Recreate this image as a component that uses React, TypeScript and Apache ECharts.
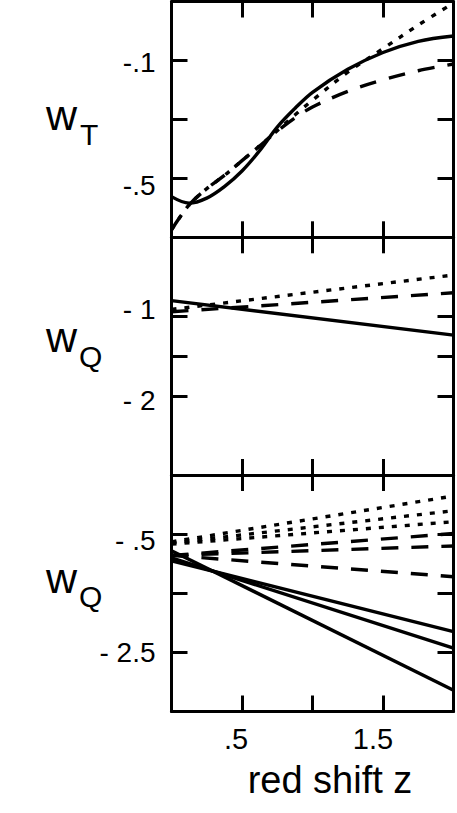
import React, { useEffect, useRef } from "react";
import * as echarts from "echarts";

const FONT = '"Liberation Sans", Arial, Helvetica, sans-serif';

// ---- x axis (red shift z), shared by all panels ----
const X_TICKS = [0.5, 1, 1.5];
const X_LABEL_VALUES = [0.5, 1.5];
const X_LABELS = [".5", "1.5"];

// ---- panel 1: w_T ----
const Z_T = [0, 0.125, 0.25, 0.375, 0.5, 0.625, 0.75, 0.875, 1, 1.25, 1.5, 1.75, 2];
const WT_SOLID = [-0.562, -0.584, -0.567, -0.528, -0.475, -0.406, -0.326, -0.263, -0.208, -0.13, -0.073, -0.035, -0.017];
const WT_DOTTED = [-0.675, -0.59, -0.535, -0.49, -0.44, -0.39, -0.338, -0.285, -0.235, -0.14, -0.06, 0.02, 0.095];
const WT_DASHED = [-0.675, -0.59, -0.535, -0.49, -0.44, -0.39, -0.34, -0.295, -0.258, -0.205, -0.166, -0.135, -0.112];
const WT_TICKS = [-0.5, -0.3, -0.1];
const WT_LABEL_VALUES = [-0.1, -0.5];
const WT_LABELS = ["-.1", "-.5"];

// ---- panel 2: w_Q (single model) ----
const Z_Q = [0, 2];
const WQ1_SOLID = [-0.8, -1.234];
const WQ1_DOTTED = [-0.91, -0.476];
const WQ1_DASHED = [-0.94, -0.7];
const WQ1_TICKS = [-1, -1.5, -2];
const WQ1_LABEL_VALUES = [-1, -2];
const WQ1_LABELS = ["- 1", "- 2"];

// ---- panel 3: w_Q (three models each) ----
const WQ2_SOLID_A = [-0.95, -2.15];
const WQ2_SOLID_B = [-0.9, -2.43];
const WQ2_SOLID_C = [-0.78, -3.14];
const WQ2_DASHED_A = [-0.86, -0.49];
const WQ2_DASHED_B = [-0.86, -0.7];
const WQ2_DASHED_C = [-0.86, -1.22];
const WQ2_DOTTED_A = [-0.63, 0.145];
const WQ2_DOTTED_B = [-0.65, -0.104];
const WQ2_DOTTED_C = [-0.67, -0.29];
const WQ2_TICKS = [-0.5, -1.5, -2.5];
const WQ2_LABEL_VALUES = [-0.5, -2.5];
const WQ2_LABELS = ["- .5", "- 2.5"];

const PANEL_RANGES = [
  [-0.7, 0.1],
  [-3, 0],
  [-3.5, 0.5],
];

const GRID_LEFT = 171.5;
const GRID_WIDTH = 282;
const GRIDS = [
  { top: 1.5, height: 235.8 },
  { top: 237.3, height: 237.7 },
  { top: 475, height: 236.5 },
];

// label vertical nudges (px, + = down) to follow the original typesetting
const Y_LABEL_SHIFT: Record<string, number> = {
  "-.1": 2,
  "-.5": 7,
  "- 1": -7,
  "- 2": 5,
  "- .5": 6,
  "- 2.5": 0,
};
const X_LABEL_SHIFT: Record<string, number> = { ".5": -6, "1.5": -10 };

const pairs = (zs: number[], ws: number[]) => zs.map((z, i) => [z, ws[i]]);

const AXIS_LINE = { show: true, onZero: false, lineStyle: { color: "#000", width: 3 } };
const tickStyle = (values: number[]) => ({
  show: true,
  inside: true,
  length: 16,
  customValues: values,
  lineStyle: { color: "#000", width: 3 },
});

const LABEL_FONT = 28;
const XLABEL_FONT = 29;

function yLabel(values: number[], labels: string[]) {
  const rich: Record<string, any> = {};
  labels.forEach((l, i) => {
    const d = Y_LABEL_SHIFT[l] || 0;
    rich["r" + i] = {
      fontFamily: FONT,
      fontSize: LABEL_FONT,
      color: "#000",
      padding: d >= 0 ? [2 * d, 0, 0, 0] : [0, 0, -2 * d, 0],
    };
  });
  return {
    show: true,
    customValues: values,
    margin: 16,
    fontFamily: FONT,
    fontSize: LABEL_FONT,
    color: "#000",
    formatter: (v: number) => {
      const i = values.findIndex((x) => Math.abs(x - v) < 1e-9);
      return i < 0 ? "" : "{r" + i + "|" + labels[i] + "}";
    },
    rich,
  };
}

function xLabel() {
  const rich: Record<string, any> = {};
  X_LABELS.forEach((l, i) => {
    const d = X_LABEL_SHIFT[l] || 0;
    rich["r" + i] = {
      fontFamily: FONT,
      fontSize: XLABEL_FONT,
      color: "#000",
      padding: d <= 0 ? [0, -2 * d, 0, 0] : [0, 0, 0, 2 * d],
    };
  });
  return {
    show: true,
    customValues: X_LABEL_VALUES,
    margin: 13,
    fontFamily: FONT,
    fontSize: XLABEL_FONT,
    color: "#000",
    formatter: (v: number) => {
      const i = X_LABEL_VALUES.findIndex((x) => Math.abs(x - v) < 1e-9);
      return i < 0 ? "" : "{r" + i + "|" + X_LABELS[i] + "}";
    },
    rich,
  };
}

const Y_TICKS = [WT_TICKS, WQ1_TICKS, WQ2_TICKS];
const Y_LABEL_VALUES = [WT_LABEL_VALUES, WQ1_LABEL_VALUES, WQ2_LABEL_VALUES];
const Y_LABELS = [WT_LABELS, WQ1_LABELS, WQ2_LABELS];

const DOT = [5, 8];
const DASH = [17, 13];

function lineSeries(panel: number, data: number[][], type: any, smooth = false) {
  return {
    type: "line",
    xAxisIndex: panel * 2,
    yAxisIndex: panel * 2,
    data,
    smooth: smooth ? 0.35 : false,
    showSymbol: false,
    symbol: "none",
    silent: true,
    lineStyle: { color: "#000", width: 3.4, type, cap: "butt" },
  };
}

export default function App() {
  const ref = useRef<HTMLDivElement>(null);

  useEffect(() => {
    if (!ref.current) return;
    const chart = echarts.init(ref.current, undefined, { renderer: "svg" });

    const grid = GRIDS.map((g) => ({
      left: GRID_LEFT,
      width: GRID_WIDTH,
      top: g.top,
      height: g.height,
      show: false,
    }));

    const xAxis: any[] = [];
    const yAxis: any[] = [];
    for (let i = 0; i < 3; i++) {
      xAxis.push({
        gridIndex: i,
        type: "value",
        position: "bottom",
        min: 0,
        max: 2,
        axisLine: AXIS_LINE,
        axisTick: tickStyle(X_TICKS),
        axisLabel: i === 2 ? xLabel() : { show: false },
        splitLine: { show: false },
      });
      xAxis.push({
        gridIndex: i,
        type: "value",
        position: "top",
        min: 0,
        max: 2,
        axisLine: AXIS_LINE,
        axisTick: tickStyle(X_TICKS),
        axisLabel: { show: false },
        splitLine: { show: false },
      });
      yAxis.push({
        gridIndex: i,
        type: "value",
        position: "left",
        min: PANEL_RANGES[i][0],
        max: PANEL_RANGES[i][1],
        axisLine: AXIS_LINE,
        axisTick: tickStyle(Y_TICKS[i]),
        axisLabel: yLabel(Y_LABEL_VALUES[i], Y_LABELS[i]),
        splitLine: { show: false },
      });
      yAxis.push({
        gridIndex: i,
        type: "value",
        position: "right",
        min: PANEL_RANGES[i][0],
        max: PANEL_RANGES[i][1],
        axisLine: AXIS_LINE,
        axisTick: tickStyle(Y_TICKS[i]),
        axisLabel: { show: false },
        splitLine: { show: false },
      });
    }

    const series = [
      lineSeries(0, pairs(Z_T, WT_DOTTED), DOT, true),
      lineSeries(0, pairs(Z_T, WT_DASHED), DASH, true),
      lineSeries(0, pairs(Z_T, WT_SOLID), "solid", true),

      lineSeries(1, pairs(Z_Q, WQ1_DOTTED), DOT),
      lineSeries(1, pairs(Z_Q, WQ1_DASHED), DASH),
      lineSeries(1, pairs(Z_Q, WQ1_SOLID), "solid"),

      lineSeries(2, pairs(Z_Q, WQ2_DOTTED_A), DOT),
      lineSeries(2, pairs(Z_Q, WQ2_DOTTED_B), DOT),
      lineSeries(2, pairs(Z_Q, WQ2_DOTTED_C), DOT),
      lineSeries(2, pairs(Z_Q, WQ2_DASHED_A), DASH),
      lineSeries(2, pairs(Z_Q, WQ2_DASHED_B), DASH),
      lineSeries(2, pairs(Z_Q, WQ2_DASHED_C), DASH),
      lineSeries(2, pairs(Z_Q, WQ2_SOLID_A), "solid"),
      lineSeries(2, pairs(Z_Q, WQ2_SOLID_B), "solid"),
      lineSeries(2, pairs(Z_Q, WQ2_SOLID_C), "solid"),
    ];

    const txt = (text: string, x: number, y: number, size: number, align = "left") => ({
      type: "text",
      x,
      y,
      silent: true,
      style: {
        text,
        fill: "#000",
        fontFamily: FONT,
        fontSize: size,
        textAlign: align,
        textVerticalAlign: "middle",
      },
    });

    const graphic = [
      txt("w", 46, 115, 43),
      txt("T", 80, 134, 30),
      txt("w", 46, 337, 43),
      txt("Q", 79, 356, 30),
      txt("w", 46, 578, 43),
      txt("Q", 79, 596, 30),
      txt("red shift z", 330, 780, 38, "center"),
    ];

    chart.setOption({
      animation: false,
      backgroundColor: "#fff",
      textStyle: { fontFamily: FONT },
      grid,
      xAxis,
      yAxis,
      series,
      graphic,
    });

    return () => chart.dispose();
  }, []);

  return (
    <div
      ref={ref}
      style={{ position: "absolute", left: 0, top: 0, width: 457, height: 813 }}
    />
  );
}
